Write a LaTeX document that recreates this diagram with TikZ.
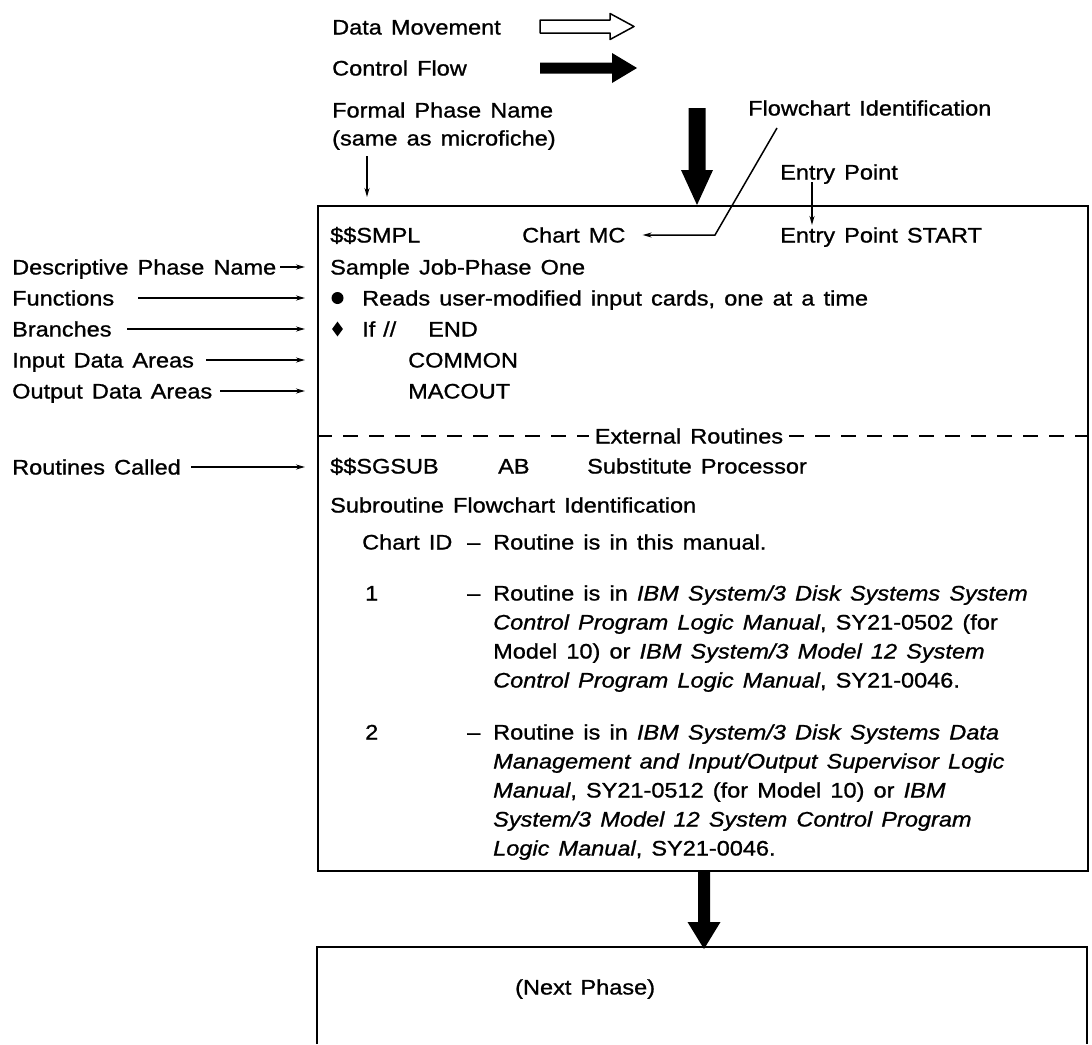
\documentclass[tikz,border=0pt]{standalone}
\usepackage{fontspec}
\setmainfont{Liberation Sans}[FakeStretch=1.12,WordSpace=1.4,FakeBold=1]
\usetikzlibrary{arrows.meta,shapes.geometric,calc}
\newcommand\fsz{\fontsize{21}{25}\selectfont}
\begin{document}
\begin{tikzpicture}[x=1pt,y=-1pt,
  txt/.style={anchor=west, inner sep=0pt, text height=15pt, text depth=0pt, font=\fsz},
  ctxt/.style={txt, anchor=center},
  thinarrow/.style={line width=1.5pt, -{Stealth[length=9pt,width=5pt]}},
  frame/.style={line width=2pt},
  dashline/.style={line width=2pt, dash pattern=on 15pt off 11pt}]
\useasboundingbox (0,0) rectangle (1092,1044);

% legend
\node[txt] (dm) at (332,27) {Data Movement};
\node[txt] (cf) at (332,68) {Control Flow};
\draw[line width=1.5pt, line join=round] (540,20) -- (610,20) -- (610,13.5) -- (634,26.5) -- (610,39.5) -- (610,33) -- (540,33) -- cycle;
\fill (540,62.5) -- (612,62.5) -- (612,53) -- (637,68) -- (612,83) -- (612,73.5) -- (540,73.5) -- cycle;

\node[txt] (fpn) at (332,110) {Formal Phase Name};
\node[txt] (sam) at (332,138) {(same as microfiche)};

% main box
\node[draw, frame, anchor=north west, minimum width=770pt, minimum height=665pt, inner sep=0pt] (mainbox) at (317,205) {};

\coordinate (fpnarrow) at (367,156);
\draw[thinarrow] (fpnarrow) -- ($(mainbox.north -| fpnarrow)+(0,-8)$);

% top control flow arrow
\coordinate (topin) at (697,108);
\fill[shift={(topin)}] (-8.5,0) -- (8.5,0) -- (8.5,62) -- (16,62) -- (0,97) -- (-16,62) -- (-8.5,62) -- cycle;

% flowchart identification
\node[txt] (fci) at (748,108) {Flowchart Identification};
\node[txt] (epl) at (780,172) {Entry Point};

% row 1
\node[txt] (smpl) at (330,235) {\$\$SMPL};
\node[txt] (chmc) at (522,235) {Chart MC};
\node[txt] (eps) at (780,235) {Entry Point START};
\coordinate (fcstart) at (777,128);
\coordinate (fcbend) at (715,235);
\draw[thinarrow] (fcstart) -- (fcbend) -- ($(chmc.east)+(17,0)$);
\draw[thinarrow] ($(epl.west)+(32,10)$) -- ($(eps.west)+(32,-10)$);

% rows
\node[txt] (sjp) at (330,267) {Sample Job-Phase One};
\node[circle, fill, inner sep=0pt, minimum size=12pt] (bul) at (337.5,298) {};
\node[txt] (reads) at (362,298) {Reads user-modified input cards, one at a time};
\node[diamond, fill, inner sep=0pt, minimum width=11pt, minimum height=15pt] (dia) at (337.5,329) {};
\node[txt] (iff) at (362,329) {If};
\node[txt] (sl) at (383,329) {//};
\node[txt] (endn) at (428,329) {END};
\node[txt] (common) at (408,360) {COMMON};
\node[txt] (macout) at (408,391) {MACOUT};

% left labels
\node[txt] (dpn) at (12,267) {Descriptive Phase Name};
\node[txt] (fun) at (12,298) {Functions};
\node[txt] (bra) at (12,329) {Branches};
\node[txt] (ida) at (12,360) {Input Data Areas};
\node[txt] (oda) at (12,391) {Output Data Areas};
\node[txt] (rcl) at (12,467) {Routines Called};
\draw[thinarrow] ($(dpn.east)+(4,0)$) -- ($(mainbox.west |- dpn.east)+(-12,0)$);
\draw[thinarrow] (138,298) -- ($(mainbox.west |- fun.east)+(-12,0)$);
\draw[thinarrow] (127,329) -- ($(mainbox.west |- bra.east)+(-12,0)$);
\draw[thinarrow] ($(ida.east)+(12,0)$) -- ($(mainbox.west |- ida.east)+(-12,0)$);
\draw[thinarrow] ($(oda.east)+(8,0)$) -- ($(mainbox.west |- oda.east)+(-12,0)$);
\draw[thinarrow] ($(rcl.east)+(10,0)$) -- ($(mainbox.west |- rcl.east)+(-12,0)$);

% external routines
\node[ctxt] (ext) at (689,436) {External Routines};
\draw[dashline] (mainbox.west |- ext) -- ($(ext.west)+(-6,0)$);
\draw[dashline] ($(ext.east)+(6,0)$) -- (mainbox.east |- ext);

\node[txt] (sgsub) at (330,466) {\$\$SGSUB};
\node[txt] (ab) at (498,466) {AB};
\node[txt] (subp) at (587,466) {Substitute Processor};

\node[txt] (sfi) at (330,505) {Subroutine Flowchart Identification};
\node[txt] (cid) at (362,542) {Chart ID};
\node[txt] (d0) at (467,542) {–};
\node[txt] (l0) at (493,542) {Routine is in this manual.};

\node[txt] (one) at (365,593) {1};
\node[txt] (d1) at (467,593) {–};
\node[txt] (l1a) at (493,593) {Routine is in \textit{IBM System/3 Disk Systems System}};
\node[txt] (l1b) at (493,622) {\textit{Control Program Logic Manual}, SY21-0502 (for};
\node[txt] (l1c) at (493,651) {Model 10) or \textit{IBM System/3 Model 12 System}};
\node[txt] (l1d) at (493,680) {\textit{Control Program Logic Manual}, SY21-0046.};

\node[txt] (two) at (365,732) {2};
\node[txt] (d2) at (467,732) {–};
\node[txt] (l2a) at (493,732) {Routine is in \textit{IBM System/3 Disk Systems Data}};
\node[txt] (l2b) at (493,761) {\textit{Management and Input/Output Supervisor Logic}};
\node[txt] (l2c) at (493,790) {\textit{Manual}, SY21-0512 (for Model 10) or \textit{IBM}};
\node[txt] (l2d) at (493,819) {\textit{System/3 Model 12 System Control Program}};
\node[txt] (l2e) at (493,848) {\textit{Logic Manual}, SY21-0046.};

% next phase box
\coordinate (nbl) at (317,1044);
\coordinate (nbtl) at (317,947);
\coordinate (nbtr) at (1087,947);
\coordinate (nbr) at (1087,1044);
\draw[frame] (nbl) -- (nbtl) -- (nbtr) -- (nbr);
\node[txt] (next) at (515,987) {(Next Phase)};

% control flow arrow between boxes
\coordinate (botin) at (mainbox.south -| 704,0);
\fill[shift={(botin)}] (-6,0) -- (6,0) -- (6,50) -- (16.5,50) -- (0,77) -- (-16.5,50) -- (-6,50) -- cycle;
\end{tikzpicture}
\end{document}
